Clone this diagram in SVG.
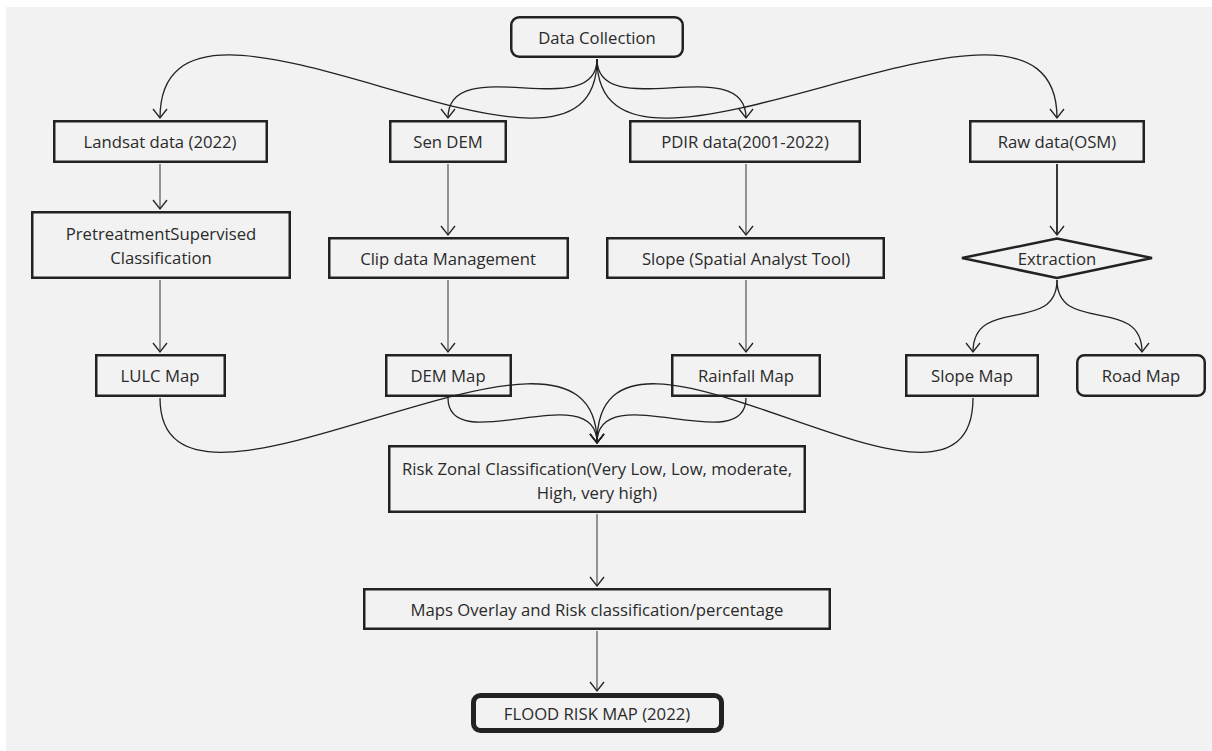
<svg xmlns="http://www.w3.org/2000/svg" width="1212" height="751" viewBox="0 0 1212 751">
<defs>
<marker id="arr" viewBox="-11 -8 13 16" markerWidth="13" markerHeight="16" refX="0" refY="0" orient="auto" markerUnits="userSpaceOnUse">
<path d="M-9,-7 L0,0 L-9,7" fill="none" stroke="#222" stroke-width="1.3"/>
</marker>
<style>
.bx{fill:none;stroke:#222;stroke-width:2.5}
.t{font-family:"Open Sans","Noto Sans","Liberation Sans",sans-serif;font-size:16.7px;fill:#2a2a2a;text-anchor:middle;dominant-baseline:central}
.c{fill:none;stroke:#222;stroke-width:1.3;marker-end:url(#arr)}
.s{fill:none;stroke:#444;stroke-width:1.1;marker-end:url(#arr)}
</style>
</defs>
<rect x="0" y="0" width="1212" height="751" fill="#ffffff"/>
<rect x="6" y="7" width="1206" height="744" fill="#f2f2f2"/>

<g id="connectors">
<path class="c" d="M597,59 C597,240 160,-70 160,118"/>
<path class="c" d="M597,59 C597,125 448,50 448,118"/>
<path class="c" d="M597,59 C597,125 746,50 746,118"/>
<path class="c" d="M597,59 C597,240 1057,-70 1057,118"/>
<path class="s" d="M160,164 L160,209"/>
<path class="s" d="M448,164 L448,235"/>
<path class="s" d="M746,164 L746,235"/>
<path class="c" style="stroke-width:1.8" d="M1057,164 L1057,235"/>
<path class="s" d="M160,280 L160,352"/>
<path class="s" d="M448,280 L448,352"/>
<path class="s" d="M746,280 L746,352"/>
<path class="c" d="M1057,280 C1057,335 973,295 973,352"/>
<path class="c" d="M1057,280 C1057,335 1142,295 1142,352"/>
<path class="c" d="M160,398 C160,570 597,262 597,443"/>
<path class="c" d="M448,398 C448,460 597,375 597,443"/>
<path class="c" d="M746,398 C746,460 597,375 597,443"/>
<path class="c" d="M973,398 C973,570 597,262 597,443"/>
<path class="s" d="M597,514 L597,586"/>
<path class="s" d="M597,631 L597,691"/>
</g>

<g id="n-data-collection"><rect class="bx" x="511.25" y="17.25" width="171.5" height="39.5" rx="8"/><text class="t" x="597" y="37">Data Collection</text></g>
<g id="n-landsat"><rect class="bx" x="54.25" y="121.25" width="212.5" height="40.5"/><text class="t" x="160" y="141.5">Landsat data (2022)</text></g>
<g id="n-sen-dem"><rect class="bx" x="390.25" y="121.25" width="115.5" height="40.5"/><text class="t" x="448" y="141.5">Sen DEM</text></g>
<g id="n-pdir"><rect class="bx" x="630.25" y="121.25" width="229.5" height="40.5"/><text class="t" x="745" y="141.5">PDIR data(2001-2022)</text></g>
<g id="n-raw"><rect class="bx" x="970.25" y="121.25" width="173.5" height="40.5"/><text class="t" x="1057" y="141.5">Raw data(OSM)</text></g>

<g id="n-pretreatment"><rect class="bx" x="32.25" y="212.25" width="257.5" height="65.5"/><text class="t" x="161" y="233">PretreatmentSupervised</text><text class="t" x="161" y="257">Classification</text></g>
<g id="n-clip"><rect class="bx" x="329.25" y="238.25" width="238.5" height="39.5"/><text class="t" x="448" y="258">Clip data Management</text></g>
<g id="n-slope-tool"><rect class="bx" x="607.25" y="238.25" width="276.5" height="39.5"/><text class="t" x="746" y="258">Slope (Spatial Analyst Tool)</text></g>
<g id="n-extraction"><polygon class="bx" points="962,258 1057,238.5 1152,258 1057,278"/><text class="t" x="1057" y="258">Extraction</text></g>

<g id="n-lulc"><rect class="bx" x="96.25" y="355.25" width="128.5" height="40.5"/><text class="t" x="160" y="375.5">LULC Map</text></g>
<g id="n-dem-map"><rect class="bx" x="386.25" y="355.25" width="124.5" height="40.5"/><text class="t" x="448" y="375.5">DEM Map</text></g>
<g id="n-rainfall"><rect class="bx" x="672.25" y="355.25" width="147.5" height="40.5"/><text class="t" x="746" y="375.5">Rainfall Map</text></g>
<g id="n-slope-map"><rect class="bx" x="906.25" y="355.25" width="131.5" height="40.5"/><text class="t" x="972" y="375.5">Slope Map</text></g>
<g id="n-road-map"><rect class="bx" x="1077.25" y="355.25" width="127.5" height="40.5" rx="7"/><text class="t" x="1141" y="375.5">Road Map</text></g>

<g id="n-risk"><rect class="bx" x="389.25" y="446.25" width="415.5" height="65.5"/><text class="t" x="597" y="468">Risk Zonal Classification(Very Low, Low, moderate,</text><text class="t" x="597" y="492">High, very high)</text></g>
<g id="n-overlay"><rect class="bx" x="364.25" y="589.25" width="465.5" height="39.5"/><text class="t" x="597" y="609">Maps Overlay and Risk classification/percentage</text></g>
<g id="n-flood"><rect class="bx" style="stroke-width:5" x="473.5" y="695.5" width="248" height="35" rx="7"/><text class="t" x="597" y="713">FLOOD RISK MAP (2022)</text></g>
</svg>
